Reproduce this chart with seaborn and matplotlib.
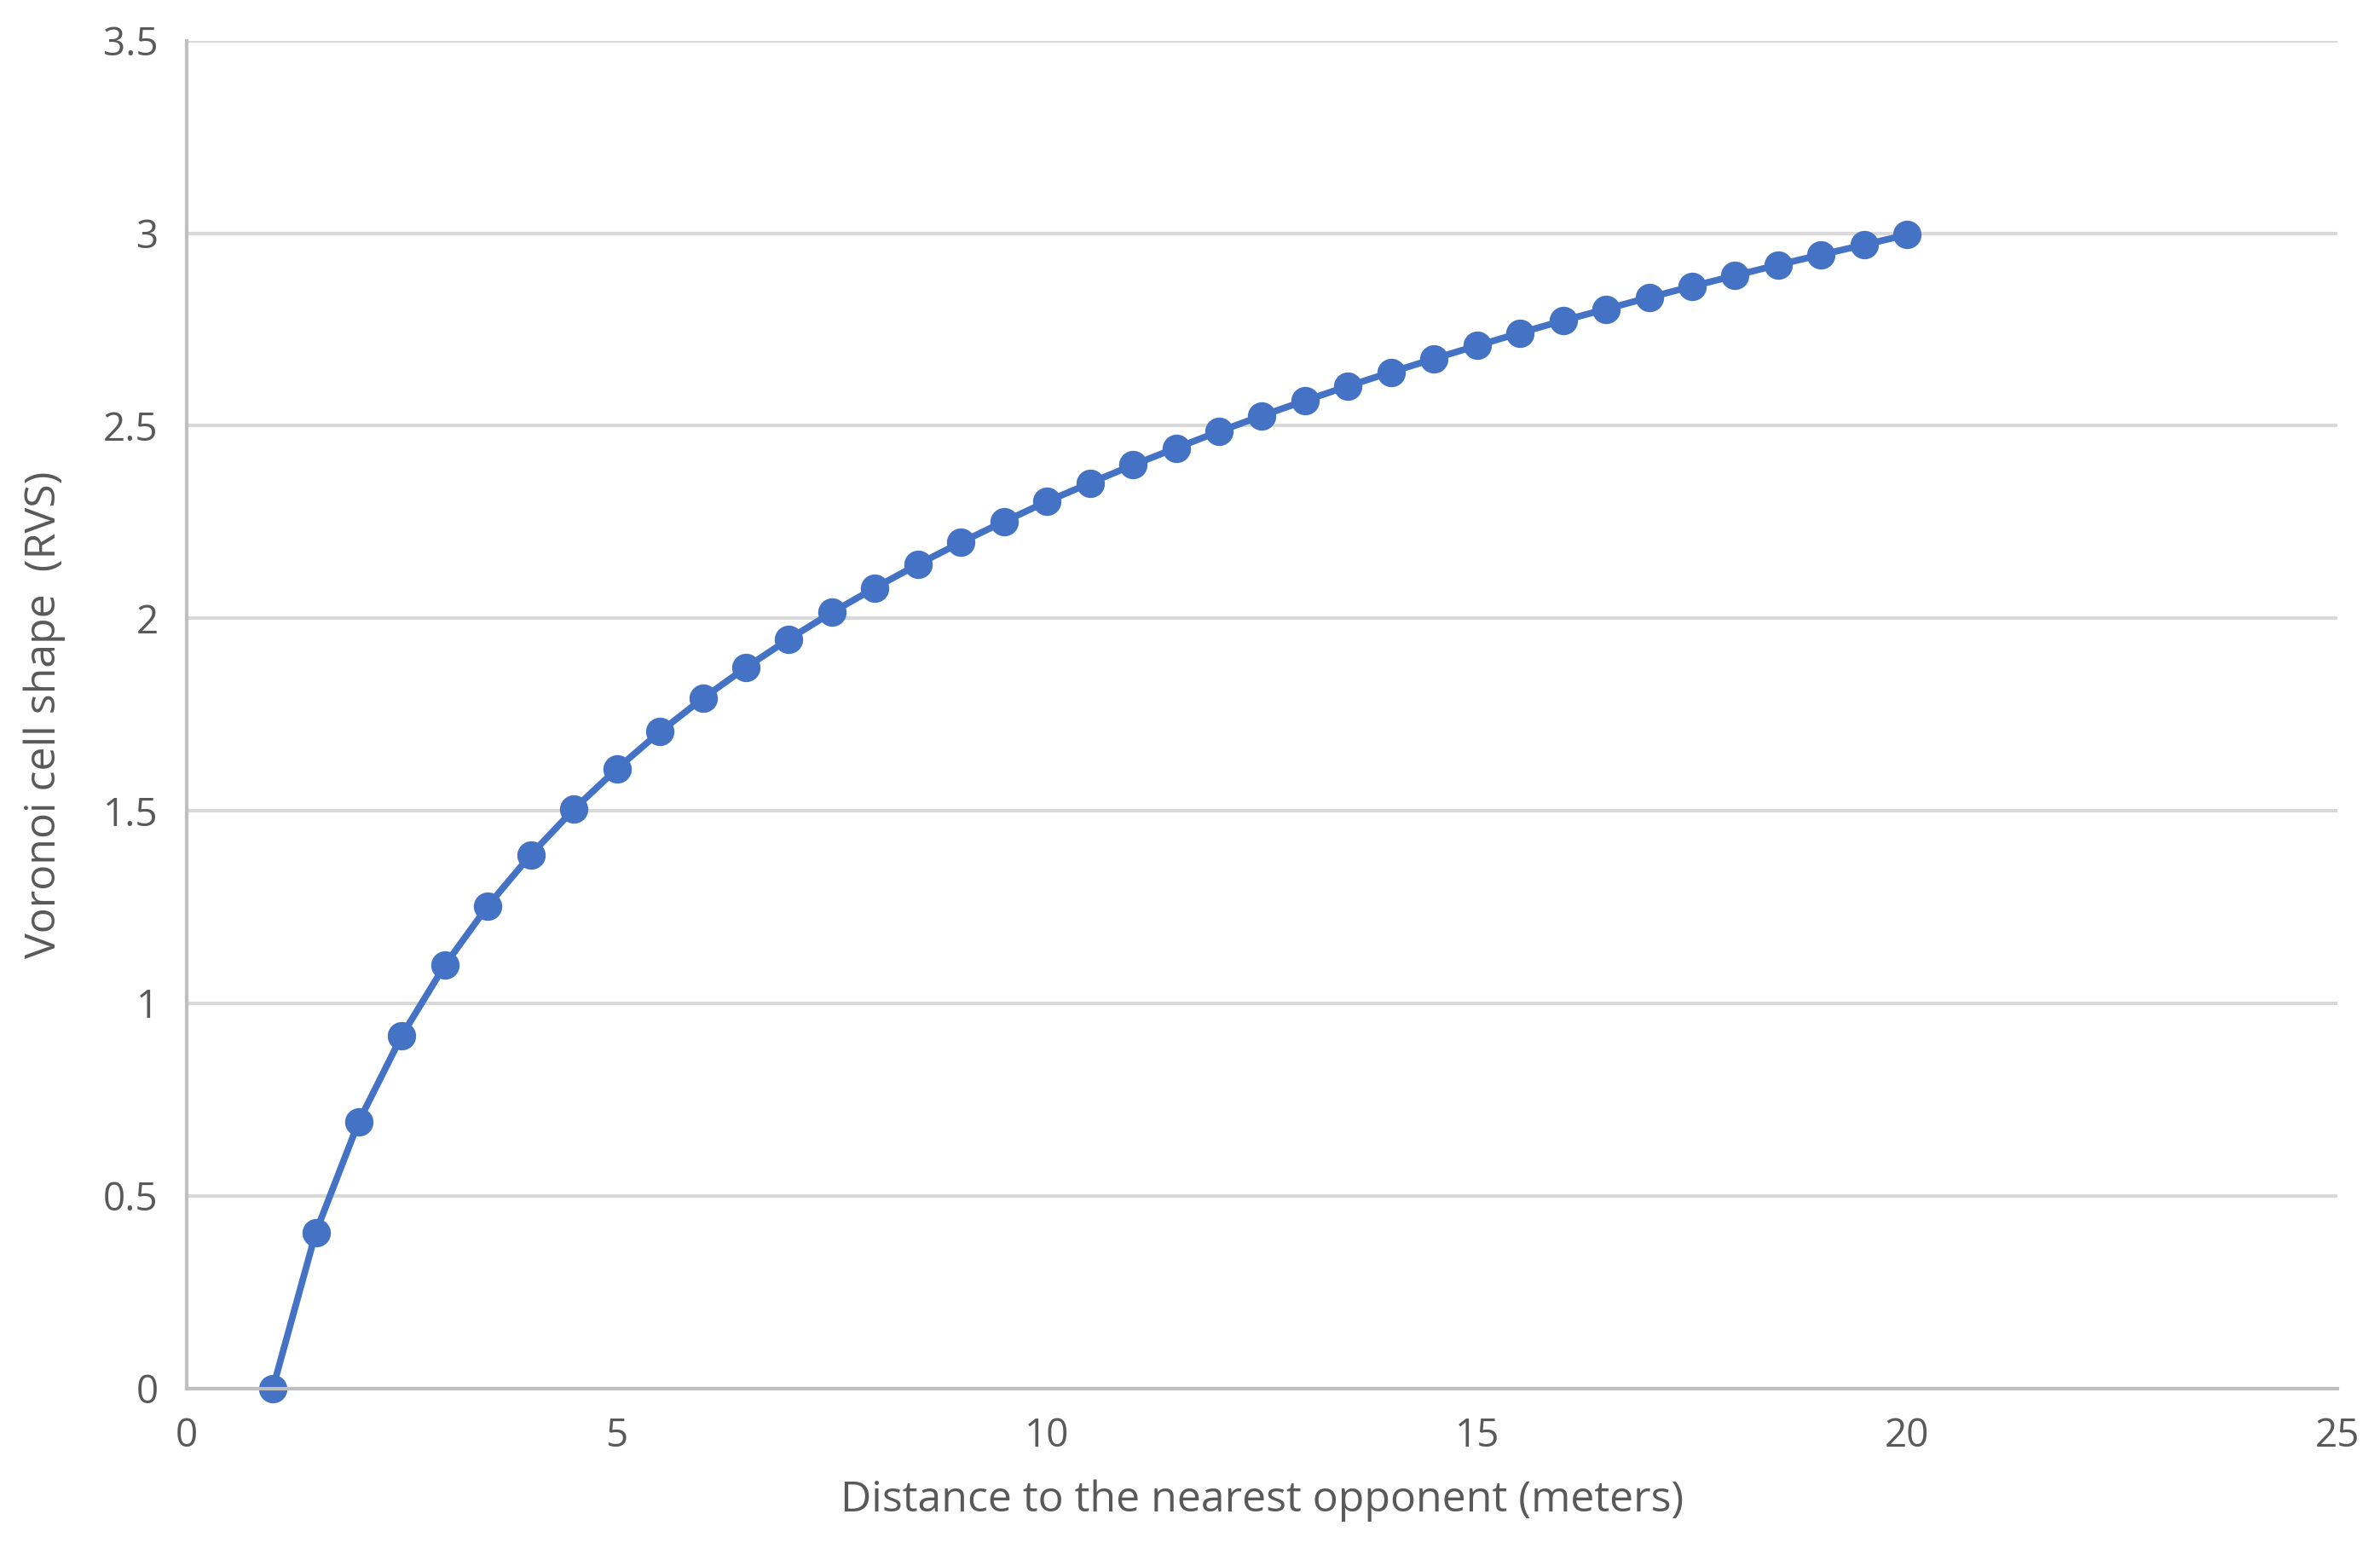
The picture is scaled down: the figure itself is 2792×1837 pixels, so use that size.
import matplotlib
matplotlib.use("Agg")
import matplotlib.pyplot as plt
import pandas as pd
import seaborn as sns

DISTANCE = [1, 1.5, 2, 2.5, 3, 3.5, 4, 4.5, 5, 5.5, 6, 6.5, 7, 7.5, 8, 8.5, 9, 9.5, 10,
            10.5, 11, 11.5, 12, 12.5, 13, 13.5, 14, 14.5, 15, 15.5, 16, 16.5, 17, 17.5,
            18, 18.5, 19, 19.5, 20]
RVS = [0.0, 0.405, 0.693, 0.916, 1.099, 1.253, 1.386, 1.504, 1.609, 1.705, 1.792, 1.872,
       1.946, 2.015, 2.079, 2.140, 2.197, 2.251, 2.303, 2.351, 2.398, 2.442, 2.485, 2.526,
       2.565, 2.603, 2.639, 2.674, 2.708, 2.741, 2.773, 2.803, 2.833, 2.862, 2.890, 2.918,
       2.944, 2.970, 2.996]
X_TICKS = [0, 5, 10, 15, 20, 25]
Y_TICKS = [0, 0.5, 1, 1.5, 2, 2.5, 3, 3.5]


def main() -> None:
    df = pd.DataFrame({"distance": DISTANCE, "rvs": RVS})
    sns.set_theme(style="white")
    plt.rcParams["font.family"] = ["Open Sans", "DejaVu Sans"]

    fig = plt.figure(figsize=(13.96, 9.185), dpi=200)
    ax = fig.add_axes([0.0785, 0.1135, 0.9035, 0.8605])
    sns.lineplot(data=df, x="distance", y="rvs", ax=ax, color="#4472C4",
                 linewidth=2.8, marker="o", markersize=12, markeredgewidth=0,
                 clip_on=False)

    ax.set_xlim(0, 25)
    ax.set_ylim(0, 3.5)
    ax.set_xticks(X_TICKS)
    ax.set_yticks(Y_TICKS)
    ax.set_yticklabels([f"{v:g}" for v in Y_TICKS])
    ax.yaxis.grid(True, color="#D9D9D9", linewidth=1.5)
    ax.set_axisbelow(True)
    for side in ["top", "right"]:
        ax.spines[side].set_visible(False)
    for side in ["left", "bottom"]:
        ax.spines[side].set_color("#BFBFBF")
        ax.spines[side].set_linewidth(1.5)
    ax.tick_params(labelsize=16.5, colors="#595959", length=0, pad=12)
    ax.set_xlabel("Distance to the nearest opponent (meters)", fontsize=18,
                  color="#595959", labelpad=10)
    ax.set_ylabel("Voronoi cell shape  (RVS)", fontsize=18, color="#595959",
                  labelpad=16)
    fig.savefig("out.png", dpi=200)
    plt.close(fig)


if __name__ == "__main__":
    main()
